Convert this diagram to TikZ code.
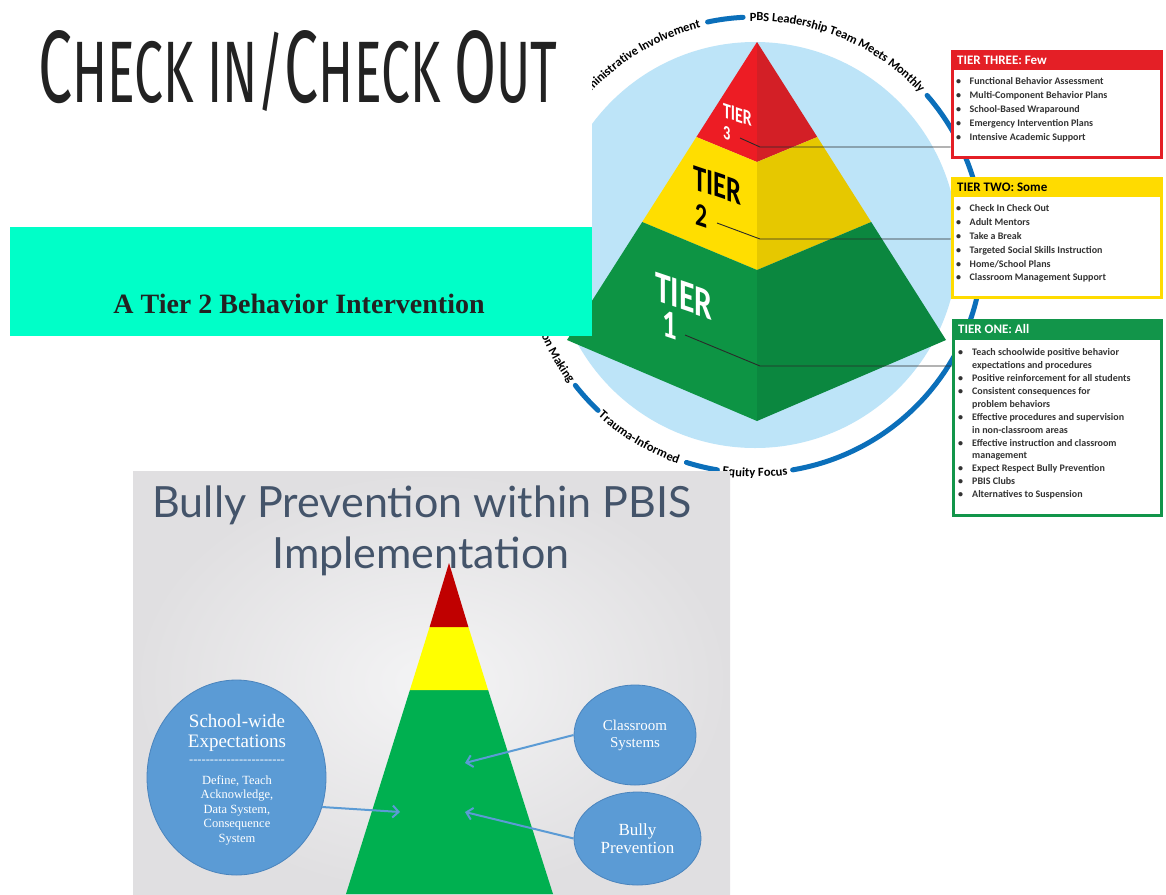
\documentclass[tikz,border=0pt]{standalone}
\usepackage{fontspec}
\usepackage{graphicx}
\usetikzlibrary{shapes.geometric,decorations.text,arrows.meta,calc}
\newfontfamily\carlito{Carlito}
\newfontfamily\firafont{Fira Sans}
\newfontfamily\libserif{Liberation Serif}
\newfontfamily\latofont{Lato}
\definecolor{barteal}{HTML}{00FFC8}
\definecolor{bartext}{HTML}{222222}
\definecolor{titleink}{HTML}{222222}
\definecolor{lightblue}{HTML}{BDE4F8}
\definecolor{ringblue}{HTML}{0B6FBA}
\definecolor{ptl}{HTML}{ED1C24}
\definecolor{ptr}{HTML}{D31F26}
\definecolor{pyl}{HTML}{FFDE00}
\definecolor{pyr}{HTML}{E6C800}
\definecolor{pgl}{HTML}{0D9444}
\definecolor{pgr}{HTML}{0B873F}
\definecolor{tred}{HTML}{E41F26}
\definecolor{tyellow}{HTML}{FFDB00}
\definecolor{tgreen}{HTML}{12954A}
\definecolor{itemgray}{HTML}{333333}
\definecolor{leadgray}{HTML}{2A2A2A}
\definecolor{slidein}{HTML}{F4F4F5}
\definecolor{slideout}{HTML}{E0DFE1}
\definecolor{slidetitle}{HTML}{44546A}
\definecolor{sred}{HTML}{C00000}
\definecolor{syellow}{HTML}{FFFF00}
\definecolor{sgreen}{HTML}{00B050}
\definecolor{ellblue}{HTML}{5B9BD5}
\definecolor{ellline}{HTML}{4A84BD}
\newcommand\ringfont{\carlito\bfseries\fontsize{12.5}{12.5}\selectfont}
\newcommand\itemfontA{\carlito\bfseries\fontsize{10}{13.8}\selectfont}
\newcommand\itemfontB{\carlito\bfseries\fontsize{10}{12.9}\selectfont}
\newcommand\dashrow{\foreach \k in {1,...,23}{-\kern0pt}}
\begin{document}
\begin{tikzpicture}[x=1pt,y=-1pt,
  tbox/.style={draw, line width=3pt, fill=white, minimum width=209pt, inner sep=0pt, anchor=north west},
  hdr/.style={anchor=west, inner sep=0pt, font=\carlito\bfseries\fontsize{13}{13}\selectfont},
  items/.style={anchor=north west, inner sep=0pt, text=itemgray},
  ring/.style={line width=5pt, line cap=round, draw=ringblue},
  leader/.style={draw=leadgray, line width=0.9pt},
  tierlbl/.style={inner sep=0pt, anchor=base west, font=\carlito\bfseries, yslant=-0.34, xscale=0.72},
  ell/.style={ellipse, fill=ellblue, draw=ellline, line width=0.8pt, inner sep=0pt, text=white, align=center},
  slarrow/.style={draw=ellblue, line width=2pt, -{Straight Barb[length=6pt,width=12pt]}},
  ringtxt/.style={decorate}
]
\useasboundingbox (0,0) rectangle (1166,894);
\fill[white] (0,0) rectangle (1166,894);

% ---- circle graphic ----
\coordinate (C) at (755,245);
\fill[lightblue] (C) circle[radius=203];

\draw[ring] ($(C)+(-102:228)$) arc[start angle=-102, end angle=-93, radius=228];
\draw[ring] ($(C)+(-41:228)$) arc[start angle=-41, end angle=80.5, radius=228];
\draw[ring] ($(C)+(99.5:228)$) arc[start angle=99.5, end angle=107.5, radius=228];
\draw[ring] ($(C)+(133.5:228)$) arc[start angle=133.5, end angle=142, radius=228];

\path[ringtxt, decoration={text along path, text align=right, raise=-4pt,
  text={|\ringfont|Administrative Involvement}}]
  ($(C)+(-150:228)$) arc[start angle=-150, end angle=-104, radius=228];
\path[ringtxt, decoration={text along path, text align=center, raise=-4pt,
  text={|\ringfont|PBS Leadership Team Meets Monthly}}]
  ($(C)+(-100:228)$) arc[start angle=-100, end angle=-34, radius=228];
\path[ringtxt, decoration={text along path, text align=center, raise=-4pt,
  text={|\ringfont|Equity Focus}}]
  ($(C)+(105:228)$) arc[start angle=105, end angle=75, radius=228];
\path[ringtxt, decoration={text along path, text align=center, raise=-4pt,
  text={|\ringfont|Trauma-Informed}}]
  ($(C)+(138:228)$) arc[start angle=138, end angle=104, radius=228];
\path[ringtxt, decoration={text along path, text align=right, raise=-4pt,
  text={|\ringfont|Data-Based Decision Making}}]
  ($(C)+(200:228)$) arc[start angle=200, end angle=143.3, radius=228];

% pyramid
\coordinate (pA) at (757,42);
\coordinate (pL) at (567,340);
\coordinate (pF) at (757,421);
\coordinate (pR) at (946,340);
\coordinate (b3L) at (696.4,137);
\coordinate (b3C) at (757,162);
\coordinate (b3R) at (817.3,137);
\coordinate (b2L) at (642.2,222);
\coordinate (b2C) at (757,270);
\coordinate (b2R) at (871.2,222);
\fill[ptl] (pA) -- (b3L) -- (b3C) -- cycle;
\fill[ptr] (pA) -- (b3C) -- (b3R) -- cycle;
\fill[pyl] (b3L) -- (b2L) -- (b2C) -- (b3C) -- cycle;
\fill[pyr] (b3C) -- (b2C) -- (b2R) -- (b3R) -- cycle;
\fill[pgl] (b2L) -- (pL) -- (pF) -- (b2C) -- cycle;
\fill[pgr] (b2C) -- (pF) -- (pR) -- (b2R) -- cycle;

\node[tierlbl, text=white] (t3a) at (723,117) {\fontsize{22}{22}\selectfont TIER};
\node[tierlbl, text=white] (t3b) at (723,138.6) {\fontsize{20}{20}\selectfont 3};
\node[tierlbl, text=black] (t2a) at (693,189) {\fontsize{37}{37}\selectfont TIER};
\node[tierlbl, text=black] (t2b) at (695,224) {\fontsize{33}{33}\selectfont 2};
\node[tierlbl, text=white] (t1a) at (655,300.6) {\fontsize{44}{44}\selectfont TIER};
\node[tierlbl, text=white] (t1b) at (662,335) {\fontsize{40}{40}\selectfont 1};

% boxes
\node[tbox, draw=tred, minimum height=106pt] (t3box) at (950.5,49.5) {};
\fill[tred] (t3box.north west) rectangle (t3box.east |- 0,70);
\node[hdr, text=white] (t3h) at (957,60) {TIER THREE: Few};
\node[items] (t3i) at (956,75) {\itemfontA\begin{tabular}{@{}l@{\hspace{8.5pt}}l@{}}
\textbullet & Functional Behavior Assessment\\
\textbullet & Multi-Component Behavior Plans\\
\textbullet & School-Based Wraparound\\
\textbullet & Emergency Intervention Plans\\
\textbullet & Intensive Academic Support
\end{tabular}};

\node[tbox, draw=tyellow, minimum height=119pt] (t2box) at (950.5,176.5) {};
\fill[tyellow] (t2box.north west) rectangle (t2box.east |- 0,197);
\node[hdr, text=black] (t2h) at (957,187) {TIER TWO: Some};
\node[items] (t2i) at (956,202) {\itemfontA\begin{tabular}{@{}l@{\hspace{8.5pt}}l@{}}
\textbullet & Check In Check Out\\
\textbullet & Adult Mentors\\
\textbullet & Take a Break\\
\textbullet & Targeted Social Skills Instruction\\
\textbullet & Home/School Plans\\
\textbullet & Classroom Management Support
\end{tabular}};

\node[tbox, draw=tgreen, minimum width=208pt, minimum height=195pt] (t1box) at (951.5,318.5) {};
\fill[tgreen] (t1box.north west) rectangle (t1box.east |- 0,340);
\node[hdr, text=white] (t1h) at (958,329) {TIER ONE: All};
\node[items] (t1i) at (958,346.5) {\itemfontB\begin{tabular}{@{}l@{\hspace{9pt}}l@{}}
\textbullet & Teach schoolwide positive behavior\\
 & expectations and procedures\\
\textbullet & Positive reinforcement for all students\\
\textbullet & Consistent consequences for\\
 & problem behaviors\\
\textbullet & Effective procedures and supervision\\
 & in non-classroom areas\\
\textbullet & Effective instruction and classroom\\
 & management\\
\textbullet & Expect Respect Bully Prevention\\
\textbullet & PBIS Clubs\\
\textbullet & Alternatives to Suspension
\end{tabular}};

% leader lines
\coordinate (l3s) at (740,138);
\coordinate (l3b) at (760,147);
\draw[leader] (l3s) -- (l3b) -- (l3b -| t3box.west);
\coordinate (l2s) at (717,223);
\coordinate (l2b) at (760,239);
\draw[leader] (l2s) -- (l2b) -- (l2b -| t2box.west);
\coordinate (l1s) at (685,335);
\coordinate (l1b) at (760,366);
\draw[leader] (l1s) -- (l1b) -- (l1b -| t1box.west);

% ---- top-left area ----
\fill[white] (0,0) rectangle (592,227);
\node[fill=barteal, minimum width=582pt, minimum height=109pt, inner sep=0pt, anchor=north west] (bar) at (10,227) {};
\node[anchor=base, inner sep=0pt, font=\libserif\bfseries\fontsize{28}{28}\selectfont, text=bartext] (bartxt) at (299,313) {A Tier 2 Behavior Intervention};
\node[anchor=base west, inner sep=0pt, text=titleink] (title) at (38,102) {\resizebox{519pt}{72pt}{\firafont\fontsize{100}{100}\selectfont C{\fontsize{85}{85}\selectfont HECK IN/}C{\fontsize{85}{85}\selectfont HECK }O{\fontsize{85}{85}\selectfont UT}}};

% ---- slide ----
\shade[inner color=slidein, outer color=slideout] (133,471) rectangle (730,894);
\fill[sgreen] (409.9,690) -- (488.1,690) -- (553,894) -- (346,894) -- cycle;
\fill[syellow] (429.6,627) -- (468.4,627) -- (488.1,690) -- (409.9,690) -- cycle;
\fill[sred] (449,563) -- (468.4,627) -- (429.6,627) -- cycle;
\node[anchor=base, inner sep=0pt, font=\latofont\fontsize{43}{43}\selectfont, text=slidetitle] (st1) at (422,517) {Bully Prevention within PBIS};
\node[anchor=base, inner sep=0pt, font=\latofont\fontsize{43}{43}\selectfont, text=slidetitle] (st2) at (421,568) {Implementation};

\node[ell, minimum width=179pt, minimum height=195pt] (sw) at (236.5,777.5) {};
\node[inner sep=0pt, text=white, align=center, font=\libserif\fontsize{19}{20.5}\selectfont] (swh) at (237,733) {School-wide\\Expectations};
\node[inner sep=0pt, text=white, font=\libserif\fontsize{12.5}{14}\selectfont] (swd) at (237,762) {\dashrow};
\node[inner sep=0pt, text=white, align=center, font=\libserif\fontsize{12.5}{14.5}\selectfont] (swb) at (237,810) {Define, Teach\\Acknowledge,\\Data System,\\Consequence\\System};

\node[ell, minimum width=122pt, minimum height=100pt, font=\libserif\fontsize{15}{17}\selectfont] (cs) at (635,735) {Classroom\\Systems};
\node[ell, minimum width=127pt, minimum height=93pt, font=\libserif\fontsize{17}{18.5}\selectfont] (bp) at (637.5,838.5) {Bully\\Prevention};

\coordinate (csE) at (465,763);
\coordinate (bpE) at (465,812);
\coordinate (swE) at (400,812);
\draw[slarrow] (cs.west) -- (csE);
\draw[slarrow] (bp.west) -- (bpE);
\draw[slarrow] (sw.-19) -- (swE);
\end{tikzpicture}
\end{document}
